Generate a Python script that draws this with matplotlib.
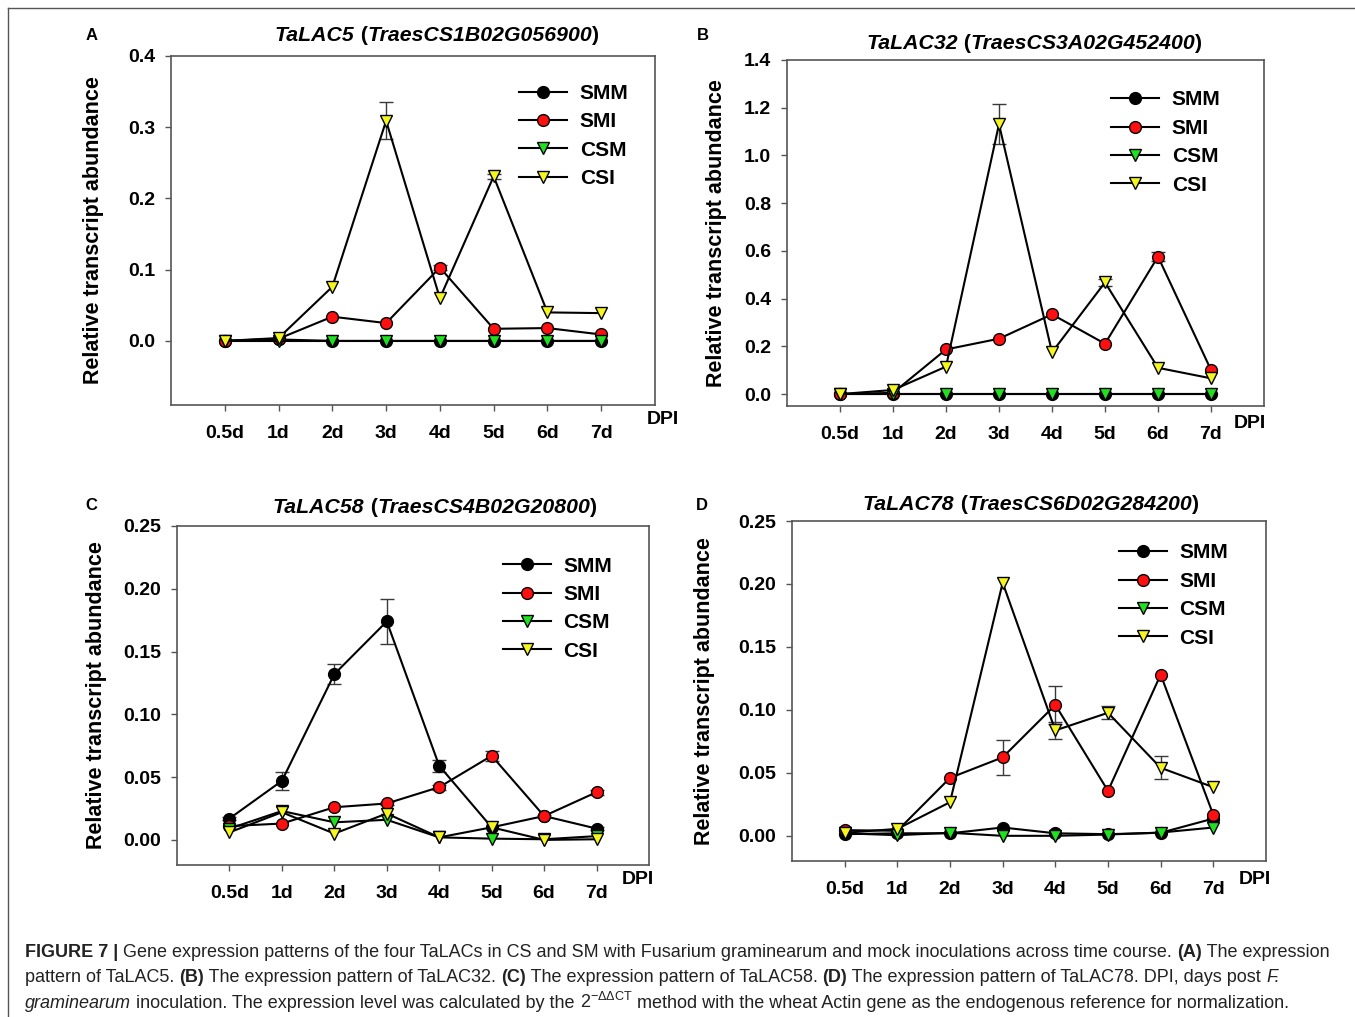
import matplotlib
matplotlib.use("Agg")
import matplotlib.pyplot as plt
from matplotlib.lines import Line2D
from matplotlib.text import Annotation
from matplotlib.ticker import FormatStrFormatter

plt.rcParams["font.family"] = ["Liberation Sans", "DejaVu Sans"]
plt.rcParams["mathtext.fontset"] = "custom"
plt.rcParams["mathtext.rm"] = "Liberation Sans"
plt.rcParams["mathtext.it"] = "Liberation Sans:italic"

days = ["0.5d", "1d", "2d", "3d", "4d", "5d", "6d", "7d"]
series = ["SMM", "SMI", "CSM", "CSI"]

# panel A  TaLAC5
a_smm = [0.0, 0.002, 0.0, 0.0, 0.0, 0.0, 0.0, 0.0]
a_smi = [0.0, 0.003, 0.034, 0.025, 0.103, 0.017, 0.018, 0.009]
a_csm = [0.0, 0.0, 0.0, 0.0, 0.0, 0.0, 0.0, 0.0]
a_csi = [0.0, 0.004, 0.076, 0.309, 0.060, 0.231, 0.040, 0.039]
a_smi_err = [0, 0, 0, 0, 0.003, 0, 0, 0]
a_csi_err = [0, 0, 0, 0.026, 0, 0.003, 0, 0]

# panel B  TaLAC32
b_smm = [0.0, 0.0, 0.0, 0.0, 0.0, 0.0, 0.0, 0.0]
b_smi = [0.0, 0.005, 0.187, 0.232, 0.334, 0.211, 0.576, 0.101]
b_csm = [0.0, 0.0, 0.0, 0.0, 0.0, 0.0, 0.0, 0.0]
b_csi = [0.0, 0.017, 0.115, 1.131, 0.175, 0.468, 0.110, 0.066]
b_smi_err = [0, 0, 0, 0, 0, 0, 0.02, 0]
b_csi_err = [0, 0, 0, 0.085, 0, 0.015, 0, 0]

# panel C  TaLAC58
c_smm = [0.017, 0.047, 0.132, 0.174, 0.059, 0.010, 0.019, 0.009]
c_smi = [0.011, 0.013, 0.026, 0.029, 0.042, 0.067, 0.019, 0.038]
c_csm = [0.009, 0.023, 0.014, 0.016, 0.002, 0.001, 0.0005, 0.003]
c_csi = [0.006, 0.022, 0.005, 0.021, 0.002, 0.010, 0.0, 0.0005]
c_smm_err = [0.001, 0.007, 0.008, 0.018, 0.005, 0, 0, 0.001]
c_smi_err = [0, 0, 0, 0.001, 0.002, 0.004, 0.001, 0.002]

# panel D  TaLAC78
d_smm = [0.0013, 0.002, 0.002, 0.0066, 0.002, 0.0013, 0.0024, 0.0137]
d_smi = [0.0045, 0.004, 0.046, 0.0623, 0.104, 0.0357, 0.128, 0.0166]
d_csm = [0.002, 0.0005, 0.0024, 0.0, 0.0, 0.001, 0.0026, 0.0066]
d_csi = [0.0024, 0.0055, 0.0267, 0.201, 0.0837, 0.0977, 0.054, 0.0386]
d_smi_err = [0, 0, 0, 0.014, 0.015, 0, 0, 0]
d_csi_err = [0, 0, 0, 0, 0.007, 0.005, 0.009, 0]

zeros = [0] * 8
styles = {
    "SMM": dict(marker="o", mfc="black"),
    "SMI": dict(marker="o", mfc="#ff1010"),
    "CSM": dict(marker="v", mfc="#20e020"),
    "CSI": dict(marker="v", mfc="#f5f520"),
}

panels = [
    dict(letter="A", gene="TaLAC5", trae="TraesCS1B02G056900",
         data=[a_smm, a_smi, a_csm, a_csi],
         err=[zeros, a_smi_err, zeros, a_csi_err],
         rect=[171, 56, 655, 405], ylim=(-0.09, 0.4), yticks=[0, 0.1, 0.2, 0.3, 0.4], fmt="%.1f",
         title_x=275, title_y=35, let_xy=(92, 35), ylab_x=104, leg=(0.72, 0.92), dpi=(663, 420)),
    dict(letter="B", gene="TaLAC32", trae="TraesCS3A02G452400",
         data=[b_smm, b_smi, b_csm, b_csi],
         err=[zeros, b_smi_err, zeros, b_csi_err],
         rect=[787, 60, 1264, 406], ylim=(-0.05, 1.4), yticks=[0, 0.2, 0.4, 0.6, 0.8, 1.0, 1.2, 1.4], fmt="%.1f",
         title_x=866, title_y=43, let_xy=(703, 35), ylab_x=727, leg=(0.68, 0.912), dpi=(1250, 423)),
    dict(letter="C", gene="TaLAC58", trae="TraesCS4B02G20800",
         data=[c_smm, c_smi, c_csm, c_csi],
         err=[c_smm_err, c_smi_err, zeros, zeros],
         rect=[177, 526, 649, 865], ylim=(-0.02, 0.25), yticks=[0, 0.05, 0.10, 0.15, 0.20, 0.25], fmt="%.2f",
         title_x=273, title_y=507, let_xy=(91, 505), ylab_x=107, leg=(0.69, 0.91), dpi=(638, 880)),
    dict(letter="D", gene="TaLAC78", trae="TraesCS6D02G284200",
         data=[d_smm, d_smi, d_csm, d_csi],
         err=[zeros, d_smi_err, zeros, d_csi_err],
         rect=[792, 521, 1266, 861], ylim=(-0.02, 0.25), yticks=[0, 0.05, 0.10, 0.15, 0.20, 0.25], fmt="%.2f",
         title_x=863, title_y=504, let_xy=(702, 505), ylab_x=715, leg=(0.69, 0.934), dpi=(1255, 880)),
]

W, H = 1355, 1017
fig = plt.figure(figsize=(W / 100, H / 100), dpi=100)
fig.patch.set_facecolor("white")

# frame on left and top
fig.add_artist(Line2D([8 / W, 8 / W], [0, 1 - 8 / H], color="#555555", lw=1.0))
fig.add_artist(Line2D([8 / W, 1], [1 - 8 / H, 1 - 8 / H], color="#555555", lw=1.0))


def chained(parts, x, y, size):
    """Write text pieces one after another, starting at pixel (x, y)."""
    made = [fig.text(x / W, 1 - y / H, parts[0][0], fontsize=size, va="bottom", ha="left", **parts[0][1])]
    for txt, kw in parts[1:]:
        made.append(fig.add_artist(Annotation(
            txt, xy=(1, 0), xycoords=made[-1], fontsize=size, va="bottom", ha="left", **kw)))
    return made


for p in panels:
    l, t, r, b = p["rect"]
    ax = fig.add_axes([l / W, 1 - b / H, (r - l) / W, (b - t) / H])
    x = list(range(len(days)))
    for name, vals, err in zip(series, p["data"], p["err"]):
        st = styles[name]
        ex = [i for i, e in enumerate(err) if e > 0]
        if ex:
            ax.errorbar([x[i] for i in ex], [vals[i] for i in ex], yerr=[err[i] for i in ex],
                        fmt="none", ecolor="#3a3a3a", elinewidth=1.0, capsize=5, capthick=1.0, zorder=2)
        ax.plot(x, vals, color="black", lw=1.5, marker=st["marker"], mfc=st["mfc"], mec="black",
                mew=1.0, ms=8.5, label=name, zorder=3)
    ax.set_xlim(-1, 8)
    ax.set_ylim(*p["ylim"])
    ax.set_xticks(x)
    ax.set_xticklabels(days)
    ax.set_yticks(p["yticks"])
    ax.yaxis.set_major_formatter(FormatStrFormatter(p["fmt"]))
    ax.tick_params(direction="out", length=4.5, width=1.0, color="#555555", labelsize=14)
    ax.tick_params(axis="x", pad=10)
    ax.tick_params(axis="y", pad=7)
    for lab in ax.get_xticklabels() + ax.get_yticklabels():
        lab.set_fontweight("bold")
    for sp in ax.spines.values():
        sp.set_color("#555555")
        sp.set_linewidth(1.2)
    ax.set_ylabel("Relative transcript abundance", fontsize=15.5, fontweight="bold")
    ax.yaxis.set_label_coords((p["ylab_x"] - l) / (r - l), 0.5)
    ax.legend(loc="upper left", bbox_to_anchor=p["leg"], frameon=False, borderpad=0,
              borderaxespad=0, handlelength=2.3, handletextpad=0.6, labelspacing=0.45,
              prop=dict(size=15, weight="bold"))
    # title: italic gene names, plain parentheses
    chained([(p["gene"], dict(fontweight="bold", fontstyle="italic")),
             (" (", dict(fontweight="bold")),
             (p["trae"], dict(fontweight="bold", fontstyle="italic")),
             (")", dict(fontweight="bold"))], p["title_x"], p["title_y"] + 10, 15.3)
    fig.text(p["let_xy"][0] / W, 1 - p["let_xy"][1] / H, p["letter"], fontsize=12,
             fontweight="bold", ha="center", va="center")
    fig.text(p["dpi"][0] / W, 1 - p["dpi"][1] / H, "DPI", fontsize=14, fontweight="bold",
             ha="center", va="center")

# caption
def cf(**kw):
    d = dict(color="#222222")
    d.update(kw)
    return d

line1 = [("FIGURE 7 | ", cf(fontweight="bold")),
         ("Gene expression patterns of the four TaLACs in CS and SM with Fusarium graminearum and mock "
          "inoculations across time course. ", cf()),
         ("(A)", cf(fontweight="bold")),
         (" The expression", cf())]
line2 = [("pattern of TaLAC5. ", cf()), ("(B)", cf(fontweight="bold")),
         (" The expression pattern of TaLAC32. ", cf()), ("(C)", cf(fontweight="bold")),
         (" The expression pattern of TaLAC58. ", cf()), ("(D)", cf(fontweight="bold")),
         (" The expression pattern of TaLAC78. DPI, days post ", cf()),
         ("F.", cf(fontstyle="italic"))]
line3 = [("graminearum", cf(fontstyle="italic")),
         (" inoculation. The expression level was calculated by the ", cf()),
         (r"$2^{-\Delta\Delta\mathrm{CT}}$", cf()),
         (" method with the wheat Actin gene as the endogenous reference for normalization.", cf())]

# size the caption so that the first line runs out to the right margin
probe = chained(line1, 25, 960, 10)
fig.canvas.draw()
rend = fig.canvas.get_renderer()
right = max(a.get_window_extent(rend).x1 for a in probe)
for a in probe:
    a.remove()
cap_size = 10 * (1335 - 25) / (right - 25)

chained(line1, 25, 961, cap_size)
chained(line2, 25, 986, cap_size)
chained(line3, 25, 1012, cap_size)

fig.savefig("out.png", dpi=100, facecolor="white")
